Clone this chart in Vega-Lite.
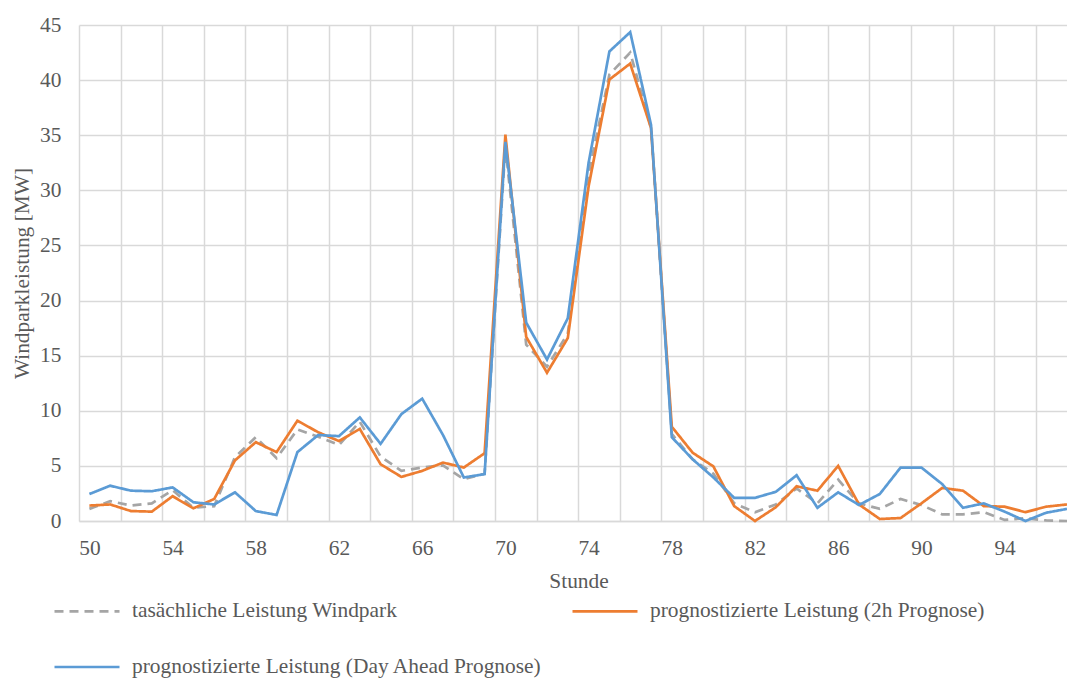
{
  "$schema": "https://vega.github.io/schema/vega-lite/v6.json",
  "autosize": {"type": "none"},
  "padding": {"left": 79, "top": 25, "right": 0, "bottom": 158},
  "width": 988,
  "height": 496,
  "background": "white",
  "config": {
    "font": "Liberation Serif",
    "view": {"stroke": null},
    "axis": {
      "labelFont": "Liberation Serif",
      "titleFont": "Liberation Serif",
      "labelFontSize": 21.4,
      "titleFontSize": 21.4,
      "labelColor": "#595959",
      "titleColor": "#595959",
      "titleFontWeight": "normal",
      "gridColor": "#d9d9d9",
      "gridWidth": 1.5,
      "ticks": false,
      "tickSize": 0
    },
    "axisY": {
      "title": "Windparkleistung [MW]",
      "values": [0, 5, 10, 15, 20, 25, 30, 35, 40, 45],
      "grid": true,
      "domain": false,
      "labelPadding": 18,
      "titleAngle": -90,
      "titleX": -51,
      "titleY": 248,
      "titleAlign": "center",
      "titleBaseline": "alphabetic"
    },
    "legend": {
      "labelFont": "Liberation Serif",
      "labelFontSize": 21.4,
      "labelColor": "#595959",
      "labelLimit": 0
    }
  },
  "data": {
    "values": [
      {"stunde": 50, "ist": 1.1, "p2h": 1.4, "pda": 2.45},
      {"stunde": 51, "ist": 1.8, "p2h": 1.5, "pda": 3.2},
      {"stunde": 52, "ist": 1.4, "p2h": 0.9, "pda": 2.75},
      {"stunde": 53, "ist": 1.6, "p2h": 0.85, "pda": 2.7},
      {"stunde": 54, "ist": 2.8, "p2h": 2.25, "pda": 3.05},
      {"stunde": 55, "ist": 1.2, "p2h": 1.15, "pda": 1.7},
      {"stunde": 56, "ist": 1.35, "p2h": 2.0, "pda": 1.5},
      {"stunde": 57, "ist": 5.8, "p2h": 5.5, "pda": 2.6},
      {"stunde": 58, "ist": 7.6, "p2h": 7.15, "pda": 0.9},
      {"stunde": 59, "ist": 5.7, "p2h": 6.25, "pda": 0.55},
      {"stunde": 60, "ist": 8.3, "p2h": 9.1, "pda": 6.25},
      {"stunde": 61, "ist": 7.65, "p2h": 8.05, "pda": 7.8},
      {"stunde": 62, "ist": 6.9, "p2h": 7.25, "pda": 7.7},
      {"stunde": 63, "ist": 9.0, "p2h": 8.35, "pda": 9.4},
      {"stunde": 64, "ist": 5.85, "p2h": 5.15, "pda": 7.0},
      {"stunde": 65, "ist": 4.55, "p2h": 4.0, "pda": 9.7},
      {"stunde": 66, "ist": 4.85, "p2h": 4.55, "pda": 11.1},
      {"stunde": 67, "ist": 5.05, "p2h": 5.3, "pda": 7.8},
      {"stunde": 68, "ist": 3.8, "p2h": 4.85, "pda": 3.95},
      {"stunde": 69, "ist": 4.3, "p2h": 6.15, "pda": 4.25},
      {"stunde": 70, "ist": 34.0, "p2h": 35.05, "pda": 34.4},
      {"stunde": 71, "ist": 16.0, "p2h": 16.7, "pda": 18.0},
      {"stunde": 72, "ist": 14.0, "p2h": 13.45, "pda": 14.65},
      {"stunde": 73, "ist": 17.0, "p2h": 16.6, "pda": 18.4},
      {"stunde": 74, "ist": 31.5, "p2h": 30.35, "pda": 32.5},
      {"stunde": 75, "ist": 40.5, "p2h": 40.05, "pda": 42.6},
      {"stunde": 76, "ist": 42.5, "p2h": 41.5, "pda": 44.35},
      {"stunde": 77, "ist": 35.7, "p2h": 35.65, "pda": 35.95},
      {"stunde": 78, "ist": 7.9, "p2h": 8.55, "pda": 7.6},
      {"stunde": 79, "ist": 5.6, "p2h": 6.2, "pda": 5.6},
      {"stunde": 80, "ist": 4.3, "p2h": 4.95, "pda": 3.95},
      {"stunde": 81, "ist": 1.6, "p2h": 1.35, "pda": 2.1},
      {"stunde": 82, "ist": 0.8, "p2h": 0.0, "pda": 2.1},
      {"stunde": 83, "ist": 1.5, "p2h": 1.25, "pda": 2.65},
      {"stunde": 84, "ist": 2.95, "p2h": 3.15, "pda": 4.15},
      {"stunde": 85, "ist": 1.6, "p2h": 2.75, "pda": 1.2},
      {"stunde": 86, "ist": 3.75, "p2h": 5.0, "pda": 2.6},
      {"stunde": 87, "ist": 1.6, "p2h": 1.5, "pda": 1.45},
      {"stunde": 88, "ist": 1.1, "p2h": 0.18, "pda": 2.45},
      {"stunde": 89, "ist": 2.0, "p2h": 0.27, "pda": 4.85},
      {"stunde": 90, "ist": 1.45, "p2h": 1.6, "pda": 4.85},
      {"stunde": 91, "ist": 0.6, "p2h": 3.0, "pda": 3.35},
      {"stunde": 92, "ist": 0.6, "p2h": 2.75, "pda": 1.2},
      {"stunde": 93, "ist": 0.8, "p2h": 1.35, "pda": 1.6},
      {"stunde": 94, "ist": 0.1, "p2h": 1.3, "pda": 0.85},
      {"stunde": 95, "ist": 0.25, "p2h": 0.8, "pda": 0.0},
      {"stunde": 96, "ist": 0.05, "p2h": 1.3, "pda": 0.75},
      {"stunde": 97, "ist": 0.0, "p2h": 1.5, "pda": 1.1}
    ]
  },
  "encoding": {
    "x": {
      "field": "stunde",
      "type": "quantitative",
      "scale": {"domain": [49.5, 97], "nice": false, "zero": false},
      "axis": {
        "title": "Stunde",
        "titleX": 499.5,
        "titleY": 66,
        "titleAlign": "center",
        "titleBaseline": "alphabetic",
        "values": [49.5, 50, 51.5, 53.5, 54, 55.5, 57.5, 58, 59.5, 61.5, 62, 63.5, 65.5, 66, 67.5, 69.5, 70, 71.5, 73.5, 74, 75.5, 77.5, 78, 79.5, 81.5, 82, 83.5, 85.5, 86, 87.5, 89.5, 90, 91.5, 93.5, 94, 95.5],
        "labelExpr": "datum.value % 4 == 2 ? datum.label : ''",
        "labelPadding": 16,
        "labelFlush": false,
        "labelOverlap": false,
        "grid": true,
        "gridOpacity": {"condition": {"test": "datum.value % 1 != 0", "value": 1}, "value": 0},
        "domain": true,
        "domainColor": "#d9d9d9",
        "domainWidth": 1.5
      }
    }
  },
  "layer": [
    {
      "mark": {"type": "line", "strokeWidth": 2.7},
      "encoding": {
        "y": {
          "field": "ist",
          "type": "quantitative",
          "title": "Windparkleistung [MW]",
          "scale": {"domain": [0, 45], "nice": false}
        },
        "color": {
          "datum": "tasächliche Leistung Windpark",
          "scale": {
            "domain": ["tasächliche Leistung Windpark", "prognostizierte Leistung (2h Prognose)", "prognostizierte Leistung (Day Ahead Prognose)"],
            "range": ["#A5A5A5", "#ED7D31", "#5B9BD5"]
          },
          "legend": {
            "title": null,
            "orient": "none",
            "direction": "horizontal",
            "legendX": -26,
            "legendY": 552,
            "columns": 2,
            "columnPadding": 25,
            "rowPadding": 11,
            "padding": 0,
            "symbolType": "stroke",
            "symbolSize": 4225,
            "symbolStrokeWidth": 2.7,
            "labelOffset": 11
          }
        },
        "strokeDash": {
          "datum": "tasächliche Leistung Windpark",
          "scale": {
            "domain": ["tasächliche Leistung Windpark", "prognostizierte Leistung (2h Prognose)", "prognostizierte Leistung (Day Ahead Prognose)"],
            "range": [[9, 6], [1, 0], [1, 0]]
          },
          "legend": {
            "title": null,
            "orient": "none",
            "direction": "horizontal",
            "legendX": -26,
            "legendY": 552,
            "columns": 2,
            "columnPadding": 25,
            "rowPadding": 11,
            "padding": 0,
            "symbolType": "stroke",
            "symbolSize": 4225,
            "symbolStrokeWidth": 2.7,
            "labelOffset": 11
          }
        }
      }
    },
    {
      "mark": {"type": "line", "strokeWidth": 2.7},
      "encoding": {
        "y": {"field": "p2h", "type": "quantitative", "title": "Windparkleistung [MW]"},
        "color": {"datum": "prognostizierte Leistung (2h Prognose)"},
        "strokeDash": {"datum": "prognostizierte Leistung (2h Prognose)"}
      }
    },
    {
      "mark": {"type": "line", "strokeWidth": 2.7},
      "encoding": {
        "y": {"field": "pda", "type": "quantitative", "title": "Windparkleistung [MW]"},
        "color": {"datum": "prognostizierte Leistung (Day Ahead Prognose)"},
        "strokeDash": {"datum": "prognostizierte Leistung (Day Ahead Prognose)"}
      }
    }
  ]
}
